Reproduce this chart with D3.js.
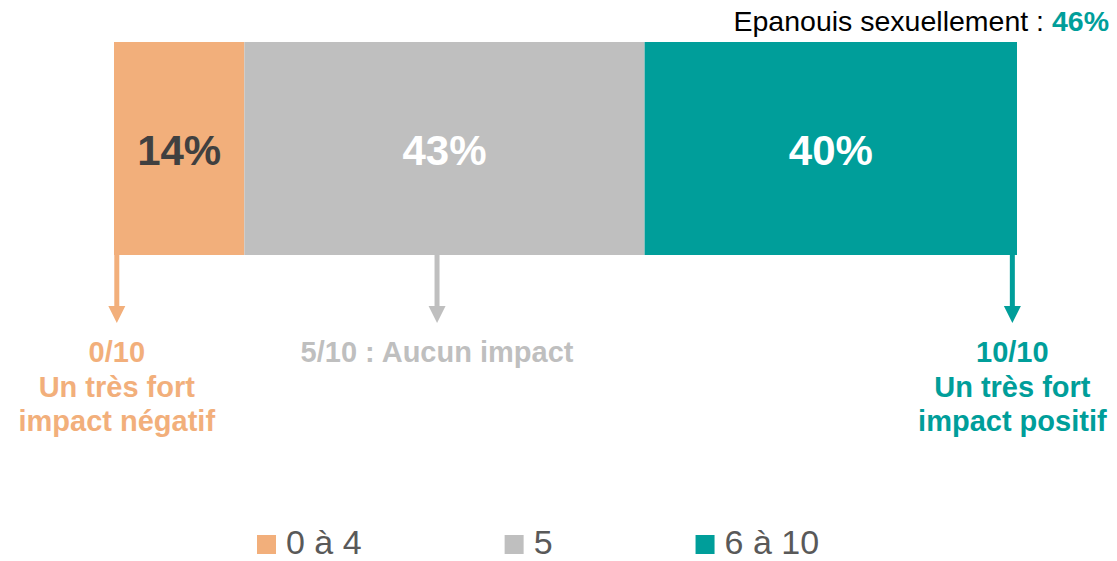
<!DOCTYPE html>
<html lang="fr">
<head>
<meta charset="UTF-8">
<title>Impact</title>
<script src="https://d3js.org/d3.v7.min.js"></script>
<style>
  body { margin: 0; background: #fff; }
  svg { display: block; font-family: "Liberation Sans", Arial, sans-serif; }
</style>
</head>
<body>
<div id="chart"></div>
<script>
// données
const categories = ["0 à 4", "5", "6 à 10"];
const values = [14, 43, 40];
const colors = ["#F2AF7B", "#BFBFBF", "#009E9A"];
const valueColors = ["#404040", "#ffffff", "#ffffff"];

// repères sous la barre (position en % de la barre)
const markerPos = [0.3, 34.7, 96.5];
const markerLines = [
  ["0/10", "Un très fort", "impact négatif"],
  ["5/10 : Aucun impact"],
  ["10/10", "Un très fort", "impact positif"]
];
const headerLabel = "Epanouis sexuellement : ";
const headerValue = "46%";

const width = 1117, height = 561;
const svg = d3.select("#chart").append("svg")
  .attr("width", width).attr("height", height);

let acc = 0;
const segs = values.map((v, i) => {
  const s = { cat: categories[i], v, x0: acc, x1: acc + v, color: colors[i], tc: valueColors[i] };
  acc += v;
  return s;
});

const x = d3.scaleLinear().domain([0, acc]).range([114, 1017]);
const y = d3.scaleBand().domain(["bar"]).range([42, 255]).padding(0);

// barre empilée
svg.selectAll("rect.seg").data(segs).enter().append("rect")
  .attr("class", "seg")
  .attr("x", d => x(d.x0))
  .attr("y", y("bar"))
  .attr("width", d => x(d.x1) - x(d.x0))
  .attr("height", y.bandwidth())
  .attr("fill", d => d.color);

svg.selectAll("text.val").data(segs).enter().append("text")
  .attr("class", "val")
  .attr("x", d => (x(d.x0) + x(d.x1)) / 2)
  .attr("y", y("bar") + y.bandwidth() / 2 + 16)
  .attr("text-anchor", "middle")
  .attr("font-size", 42)
  .attr("font-weight", "bold")
  .attr("fill", d => d.tc)
  .text(d => d.v + "%");

// titre en haut à droite
const hdr = svg.append("text")
  .attr("x", 1109).attr("y", 31)
  .attr("text-anchor", "end")
  .attr("font-size", 28.5);
hdr.append("tspan").attr("fill", "#000").text(headerLabel);
hdr.append("tspan").attr("fill", colors[2]).attr("font-weight", "bold").text(headerValue);

// flèches
const barBottom = y("bar") + y.bandwidth();
const headBase = 306, tip = 323, headHalf = 8.5;
markerPos.forEach((p, i) => {
  const cx = x(p);
  svg.append("rect")
    .attr("x", cx - 2.5).attr("y", barBottom - 1)
    .attr("width", 5).attr("height", headBase - barBottom + 2)
    .attr("fill", colors[i]);
  svg.append("path")
    .attr("d", `M${cx - headHalf},${headBase}L${cx + headHalf},${headBase}L${cx},${tip}Z`)
    .attr("fill", colors[i]);
  const t = svg.append("text")
    .attr("text-anchor", "middle")
    .attr("font-size", 29)
    .attr("font-weight", "bold")
    .attr("fill", colors[i]);
  markerLines[i].forEach((line, j) => {
    t.append("tspan").attr("x", cx).attr("y", 362 + j * 34.5).text(line);
  });
});

// légende
let lx = 257;
categories.forEach((c, i) => {
  svg.append("rect")
    .attr("x", lx).attr("y", 535)
    .attr("width", 19).attr("height", 19)
    .attr("fill", colors[i]);
  const t = svg.append("text")
    .attr("x", lx + 29).attr("y", 554)
    .attr("font-size", 34)
    .attr("fill", "#595959")
    .text(c);
  lx = lx + 29 + t.node().getComputedTextLength() + 143;
});
</script>
</body>
</html>
